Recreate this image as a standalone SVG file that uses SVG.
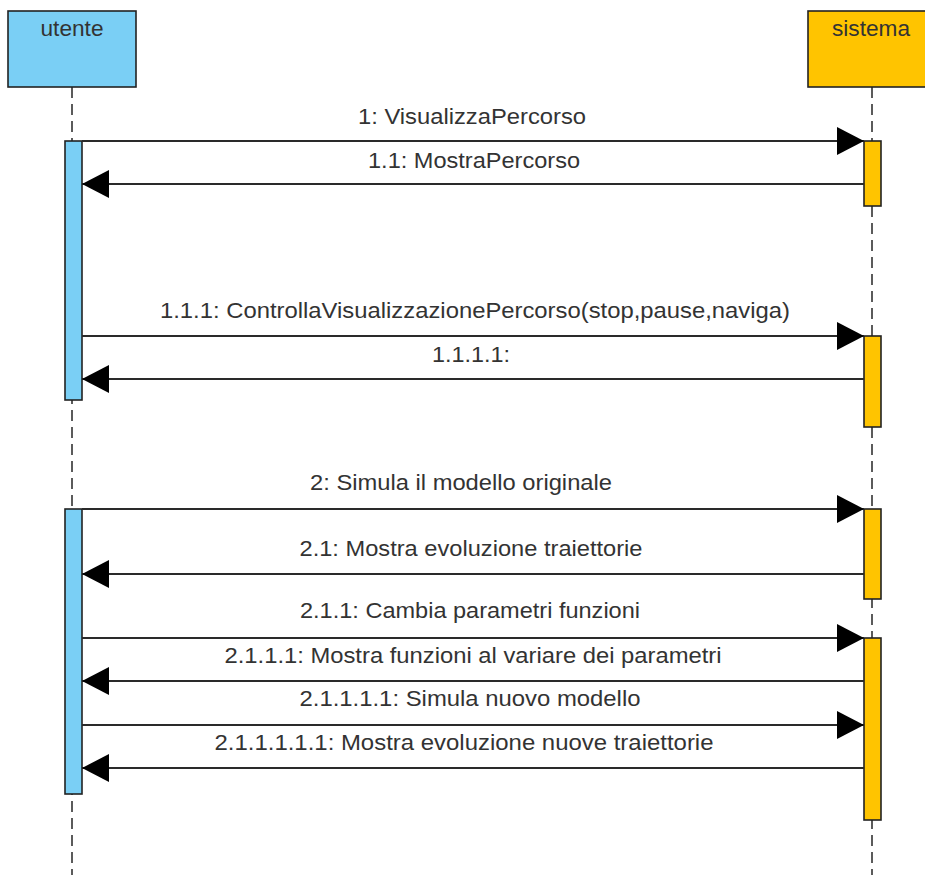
<svg xmlns="http://www.w3.org/2000/svg" width="925" height="875" viewBox="0 0 925 875">
<style>
.lbl{font-family:"Liberation Sans",Arial,sans-serif;font-size:22px;fill:#333;text-anchor:middle}
.life{stroke:#333;stroke-width:1.6;stroke-dasharray:11,6;fill:none}
.msg{stroke:#2a2a2a;stroke-width:2;fill:none;marker-end:url(#arr)}
.ub{fill:#7ACFF5;stroke:#222;stroke-width:1.6}
.sb{fill:#FFC400;stroke:#222;stroke-width:1.6}
</style>
<defs>
<marker id="arr" markerUnits="userSpaceOnUse" markerWidth="28" markerHeight="30" refX="27" refY="15" orient="auto" viewBox="0 0 28 30">
<path d="M0,1 L27,15 L0,29 z" fill="#000"/>
</marker>
</defs>
<rect width="925" height="875" fill="#fff"/>
<g id="utente">
<line class="life" x1="72" y1="87" x2="72" y2="875"/>
<rect class="ub" x="8" y="11" width="128" height="76"/>
<text class="lbl" x="72" y="36" textLength="63" lengthAdjust="spacingAndGlyphs">utente</text>
<rect class="ub" x="65" y="141" width="17" height="259"/>
<rect class="ub" x="65" y="509" width="17" height="285"/>
</g>
<g id="sistema">
<line class="life" x1="872" y1="87" x2="872" y2="875"/>
<rect class="sb" x="808" y="11" width="128" height="76"/>
<text class="lbl" x="871" y="36" textLength="78" lengthAdjust="spacingAndGlyphs">sistema</text>
<rect class="sb" x="864" y="141" width="17" height="65"/>
<rect class="sb" x="864" y="336" width="17" height="91"/>
<rect class="sb" x="864" y="509" width="17" height="90"/>
<rect class="sb" x="864" y="638" width="17" height="182"/>
</g>
<g id="connectors">
<line class="msg" x1="82" y1="141" x2="864" y2="141"/>
<line class="msg" x1="864" y1="184" x2="82" y2="184"/>
<line class="msg" x1="82" y1="336" x2="864" y2="336"/>
<line class="msg" x1="864" y1="379" x2="82" y2="379"/>
<line class="msg" x1="82" y1="509" x2="864" y2="509"/>
<line class="msg" x1="864" y1="574" x2="82" y2="574"/>
<line class="msg" x1="82" y1="638" x2="864" y2="638"/>
<line class="msg" x1="864" y1="681" x2="82" y2="681"/>
<line class="msg" x1="82" y1="725" x2="864" y2="725"/>
<line class="msg" x1="864" y1="768" x2="82" y2="768"/>
</g>
<g id="labels">
<text class="lbl" x="472" y="124" textLength="228" lengthAdjust="spacingAndGlyphs">1: VisualizzaPercorso</text>
<text class="lbl" x="474" y="168" textLength="212" lengthAdjust="spacingAndGlyphs">1.1: MostraPercorso</text>
<text class="lbl" x="475" y="318" textLength="630" lengthAdjust="spacingAndGlyphs">1.1.1: ControllaVisualizzazionePercorso(stop,pause,naviga)</text>
<text class="lbl" x="471" y="362" textLength="78" lengthAdjust="spacingAndGlyphs">1.1.1.1:</text>
<text class="lbl" x="461" y="490" textLength="302" lengthAdjust="spacingAndGlyphs">2: Simula il modello originale</text>
<text class="lbl" x="471" y="556" textLength="343" lengthAdjust="spacingAndGlyphs">2.1: Mostra evoluzione traiettorie</text>
<text class="lbl" x="470" y="618" textLength="340" lengthAdjust="spacingAndGlyphs">2.1.1: Cambia parametri funzioni</text>
<text class="lbl" x="473" y="663" textLength="497" lengthAdjust="spacingAndGlyphs">2.1.1.1: Mostra funzioni al variare dei parametri</text>
<text class="lbl" x="470" y="706" textLength="341" lengthAdjust="spacingAndGlyphs">2.1.1.1.1: Simula nuovo modello</text>
<text class="lbl" x="464" y="750" textLength="499" lengthAdjust="spacingAndGlyphs">2.1.1.1.1.1: Mostra evoluzione nuove traiettorie</text>
</g>
</svg>
